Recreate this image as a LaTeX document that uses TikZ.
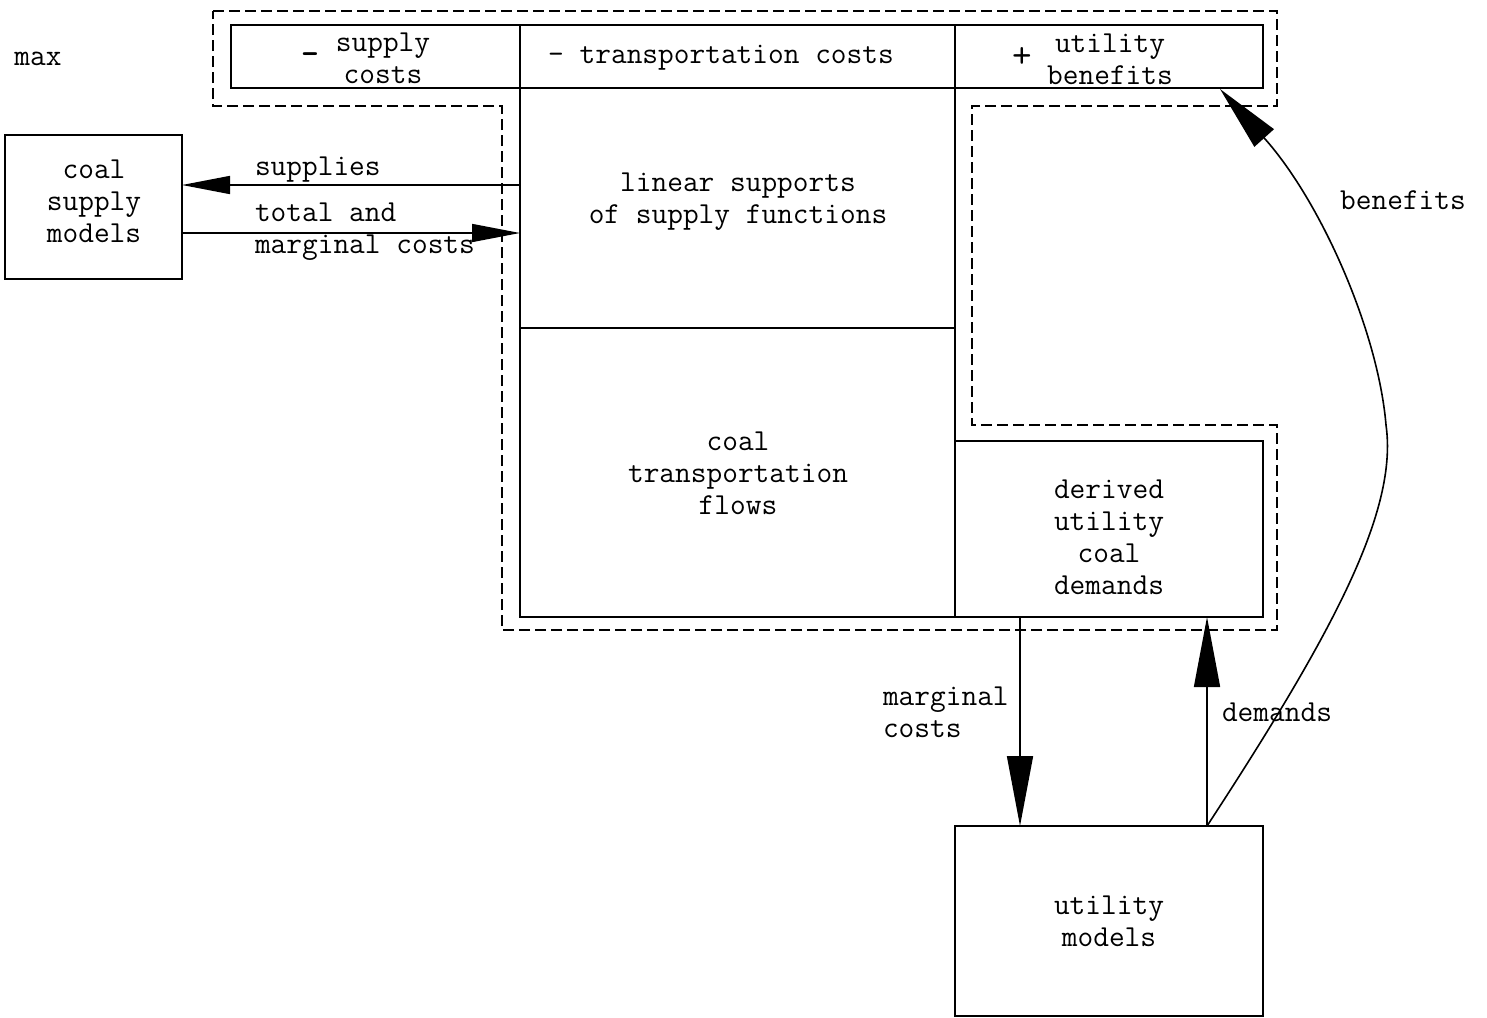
\documentclass[tikz,border=0pt]{standalone}
\usepackage{fontspec}
\usetikzlibrary{arrows.meta}
\begin{document}
\begin{tikzpicture}[x=1pt,y=-1pt,
  every node/.style={inner sep=0pt,outer sep=0pt},
  txt/.style={font=\ttfamily\fontsize{30.5}{32}\selectfont,align=center},
  box/.style={draw,line width=1.8pt},
  frame/.style={draw,line width=2.8pt,dash pattern=on 11pt off 5pt},
  conn/.style={line width=1.6pt},
  headH/.style={-{Triangle[length=48pt,width=18pt]}},
  headV/.style={-{Triangle[length=70pt,width=26pt]}},
  headB/.style={-{Triangle[length=66pt,width=26pt]}}]
\useasboundingbox (0,0) rectangle (1487,1017);
% dashed frame
\draw[frame] (213,11) -- (1277,11) -- (1277,106) -- (972,106) -- (972,425)
  -- (1277,425) -- (1277,630) -- (502,630) -- (502,106) -- (213,106) -- cycle;
% top row cells
\node[box,minimum width=289pt,minimum height=63pt] (sc) at (375.5,56.5) {};
\node[box,minimum width=435pt,minimum height=63pt] (tc) at (737.5,56.5) {};
\node[box,minimum width=308pt,minimum height=63pt] (ub) at (1109,56.5) {};
% central boxes
\node[box,minimum width=435pt,minimum height=240pt] (ls) at (737.5,208) {};
\node[box,minimum width=435pt,minimum height=289pt] (ct) at (737.5,472.5) {};
\node[box,minimum width=308pt,minimum height=176pt] (dud) at (1109,529) {};
% outer models
\node[box,minimum width=177pt,minimum height=144pt] (csm) at (93.5,207) {};
\node[box,minimum width=308pt,minimum height=190pt] (um) at (1109,921) {};
% texts
\node[txt] (tmax) at (38,59) {max};
\node[txt,font=\ttfamily\bfseries\fontsize{34}{34}\selectfont] (tminus1) at (310,59) {-};
\node[txt] (tsc) at (383,58) {supply\\costs};
\node[txt] (ttc) at (721,58) {- transportation costs};
\node[txt,font=\ttfamily\fontsize{38}{38}\selectfont] (tplus) at (1022,58) {+};
\node[txt] (tub) at (1110,59) {utility\\benefits};
\node[txt] (tls) at (738,202) {linear supports\\of supply functions};
\node[txt] (tct) at (738,473) {coal\\transportation\\flows};
\node[txt] (tdud) at (1109,537) {derived\\utility\\coal\\demands};
\node[txt] (tcsm) at (94,201) {coal\\supply\\models};
\node[txt] (tum) at (1109,921) {utility\\models};
\node[txt,anchor=west] (tsup) at (255,170) {supplies};
\node[txt,anchor=west,align=left] (ttot) at (255,232) {total and\\marginal costs};
\node[txt,anchor=west,align=left] (tmc) at (883,712) {marginal\\costs};
\node[txt,anchor=west] (tdem) at (1222,712) {demands};
\node[txt] (tben) at (1403,200) {benefits};
% connector end points
\coordinate (s1) at (520,185);
\coordinate (t1) at (182,233);
\coordinate (m1) at (1020,617);
\coordinate (d1) at (1207,826);
\coordinate (bk) at (1386,425);
\coordinate (b2) at (1220,89);
% connectors
\draw[conn,headH] (s1) -- (s1 -| csm.east);
\draw[conn,headH] (t1) -- (t1 -| ls.west);
\draw[conn,headV] (m1) -- (m1 |- um.north);
\draw[conn,headV] (d1) -- (d1 |- dud.south);
\draw[conn,headB] (d1) .. controls (1335,630) and (1398,510) .. (bk)
  .. controls (1378,330) and (1320,200) .. (b2);
\end{tikzpicture}
\end{document}
